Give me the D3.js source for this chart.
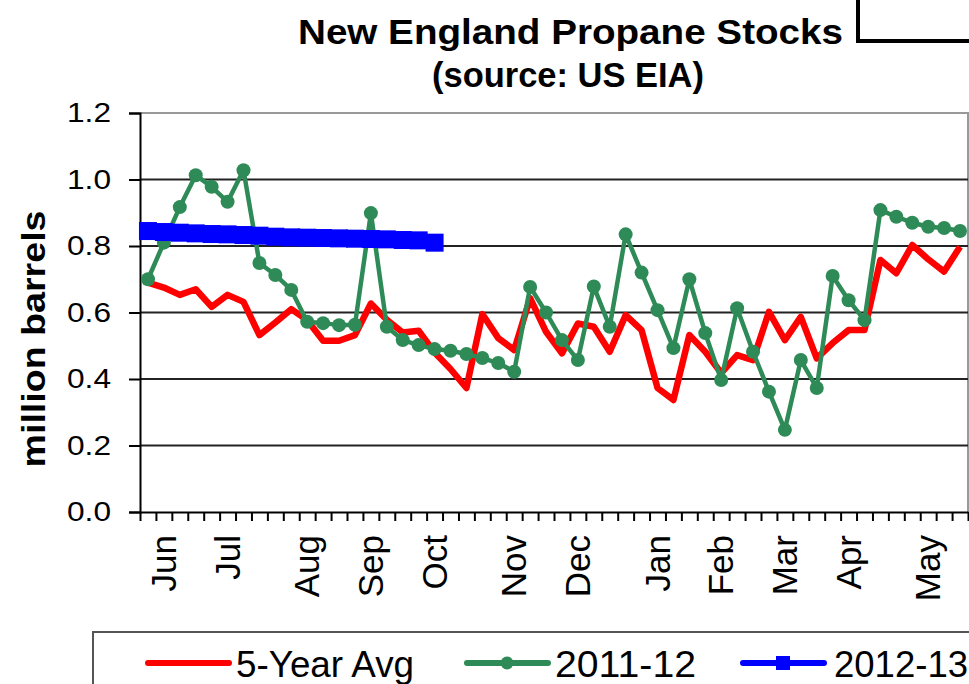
<html>
<head>
<style>
body { margin: 0; background: #fff; }
text { font-family: "Liberation Sans", Arial, sans-serif; fill: #000; }
.title { font-weight: bold; font-size: 35px; }
.ytick text { font-size: 27px; }
.xtick text { font-size: 35px; }
.legend text { font-size: 36px; }
</style>
</head>
<body>
<svg height="684" width="969" id="container"></svg>
<script src="https://cdn.jsdelivr.net/npm/d3@7/dist/d3.min.js" charset="UTF-8"></script>
<script>
// weekly categories, June through May (52 weeks); month names sit on some weeks
var weeks = d3.range(52);
var monthLabels = ["Jun","Jul","Aug","Sep","Oct","Nov","Dec","Jan","Feb","Mar","Apr","May"];
var monthWeeks = [1, 5, 10, 14, 18, 23, 27, 32, 36, 40, 44, 49];
var yTicks = [0, 0.2, 0.4, 0.6, 0.8, 1.0, 1.2];

// series values (million barrels)
var fiveYearAvg = [0.69, 0.675, 0.653, 0.67, 0.617, 0.653, 0.632, 0.532, 0.57, 0.61,
  0.577, 0.515, 0.515, 0.532, 0.627, 0.578, 0.54, 0.545, 0.48, 0.43,
  0.373, 0.595, 0.523, 0.487, 0.643, 0.542, 0.477, 0.567, 0.557, 0.482,
  0.592, 0.547, 0.373, 0.337, 0.532, 0.482, 0.418, 0.472, 0.457, 0.602,
  0.517, 0.587, 0.462, 0.508, 0.547, 0.547, 0.758, 0.718, 0.803, 0.76,
  0.723, 0.798];
var season1112 = [0.70, 0.81, 0.917, 1.013, 0.978, 0.933, 1.028, 0.749, 0.713, 0.668,
  0.572, 0.568, 0.562, 0.563, 0.899, 0.557, 0.517, 0.502, 0.49, 0.485,
  0.475, 0.463, 0.448, 0.422, 0.677, 0.60, 0.517, 0.457, 0.678, 0.557,
  0.835, 0.72, 0.607, 0.493, 0.70, 0.538, 0.397, 0.613, 0.482, 0.362,
  0.247, 0.457, 0.373, 0.71, 0.637, 0.577, 0.908, 0.888, 0.87, 0.858,
  0.854, 0.845];
var season1213 = [0.845, 0.842, 0.84, 0.838, 0.836, 0.835, 0.833, 0.831, 0.828, 0.826,
  0.825, 0.824, 0.823, 0.822, 0.821, 0.82, 0.818, 0.817, 0.81];

var svg = d3.select("#container");
var plotL = 140, plotR = 968, plotT = 113, plotB = 512;

var x = d3.scaleBand().domain(weeks).range([plotL, plotR]);
var y = d3.scaleLinear().domain([0, 1.2]).range([plotB, plotT]);
var cx = function(i){ return x(i) + x.bandwidth()/2; };

// title
svg.append("text").attr("class","title").attr("x",298).attr("y",44)
   .attr("textLength",545).attr("lengthAdjust","spacingAndGlyphs")
   .text("New England Propane Stocks");
svg.append("text").attr("class","title").attr("x",432).attr("y",87)
   .attr("textLength",272).attr("lengthAdjust","spacingAndGlyphs")
   .text("(source: US EIA)");
svg.append("path").attr("d","M858,0V41H969").attr("fill","none")
   .attr("stroke","#000").attr("stroke-width",4);

// plot frame (top/right) and grid
svg.append("path").attr("d","M"+plotL+","+plotT+"H"+plotR+"V"+plotB)
   .attr("fill","none").attr("stroke","#999").attr("stroke-width",2);
svg.append("g").selectAll("line").data(yTicks.slice(1, -1)).enter().append("line")
   .attr("x1",plotL).attr("x2",plotR)
   .attr("y1",function(d){ return y(d); }).attr("y2",function(d){ return y(d); })
   .attr("stroke","#222").attr("stroke-width",2);

// y axis
var yAxis = svg.append("g").attr("class","ytick")
   .attr("transform","translate(" + plotL + ",0)")
   .call(d3.axisLeft(y).tickValues(yTicks).tickFormat(d3.format(".1f")).tickSize(11).tickPadding(18));
yAxis.selectAll("text").attr("textLength",44).attr("lengthAdjust","spacingAndGlyphs");
yAxis.selectAll("line,path").attr("stroke","#000").attr("stroke-width",2);

// x axis: tick at every week boundary
var xLin = d3.scaleLinear().domain([0, 52]).range([plotL, plotR]);
var xAxis = svg.append("g").attr("class","xtick")
   .attr("transform","translate(0," + plotB + ")")
   .call(d3.axisBottom(xLin).tickValues(d3.range(53)).tickFormat("").tickSize(9).tickSizeOuter(0));
xAxis.selectAll("line,path").attr("stroke","#000").attr("stroke-width",2);

svg.append("g").attr("class","xtick").selectAll("text").data(monthLabels).enter().append("text")
   .attr("transform",function(d,i){ return "translate(" + cx(monthWeeks[i]) + ",535) rotate(-90)"; })
   .attr("text-anchor","end").attr("dy","0.35em")
   .text(function(d){ return d; });

// y label
svg.append("text").attr("transform","translate(33,339) rotate(-90)")
   .attr("text-anchor","middle").attr("dy","0.35em")
   .attr("font-size",34).attr("font-weight","bold")
   .attr("textLength",257).attr("lengthAdjust","spacingAndGlyphs")
   .text("million barrels");

// lines
var line = d3.line().x(function(d,i){ return cx(i); }).y(function(d){ return y(d); });

svg.append("path").datum(fiveYearAvg).attr("d",line).attr("fill","none")
   .attr("stroke","#ff0000").attr("stroke-width",6.5).attr("stroke-linejoin","round");

svg.append("path").datum(season1112).attr("d",line).attr("fill","none")
   .attr("stroke","#2e8b57").attr("stroke-width",4.5).attr("stroke-linejoin","round");
svg.append("g").selectAll("circle").data(season1112).enter().append("circle")
   .attr("cx",function(d,i){ return cx(i); }).attr("cy",function(d){ return y(d); })
   .attr("r",7).attr("fill","#2e8b57");

svg.append("path").datum(season1213).attr("d",line).attr("fill","none")
   .attr("stroke","#0000ff").attr("stroke-width",15);
svg.append("g").selectAll("rect").data(season1213).enter().append("rect")
   .attr("x",function(d,i){ return cx(i) - 9; }).attr("y",function(d){ return y(d) - 9; })
   .attr("width",18).attr("height",18).attr("fill","#0000ff");

// legend
var lg = svg.append("g").attr("class","legend");
lg.append("rect").attr("x",93).attr("y",632).attr("width",900).attr("height",80)
   .attr("fill","#fff").attr("stroke","#555").attr("stroke-width",2);
var items = [
  {name:"5-Year Avg", color:"#ff0000", x0:148, tx:236, w:178, mark:"none"},
  {name:"2011-12", color:"#2e8b57", x0:467, tx:555, w:141, mark:"circle"},
  {name:"2012-13", color:"#0000ff", x0:743, tx:834, w:134, mark:"rect"}
];
items.forEach(function(it){
  lg.append("line").attr("x1",it.x0).attr("x2",it.x0 + 81).attr("y1",663).attr("y2",663)
    .attr("stroke",it.color).attr("stroke-width",6).attr("stroke-linecap","round");
  if (it.mark == "circle") {
    lg.append("circle").attr("cx",it.x0 + 40).attr("cy",663).attr("r",6.5).attr("fill",it.color);
  } else if (it.mark == "rect") {
    lg.append("rect").attr("x",it.x0 + 33).attr("y",656).attr("width",14).attr("height",14).attr("fill",it.color);
  }
  lg.append("text").attr("x",it.tx).attr("y",677)
    .attr("textLength",it.w).attr("lengthAdjust","spacingAndGlyphs").text(it.name);
});
</script>
</body>
</html>
